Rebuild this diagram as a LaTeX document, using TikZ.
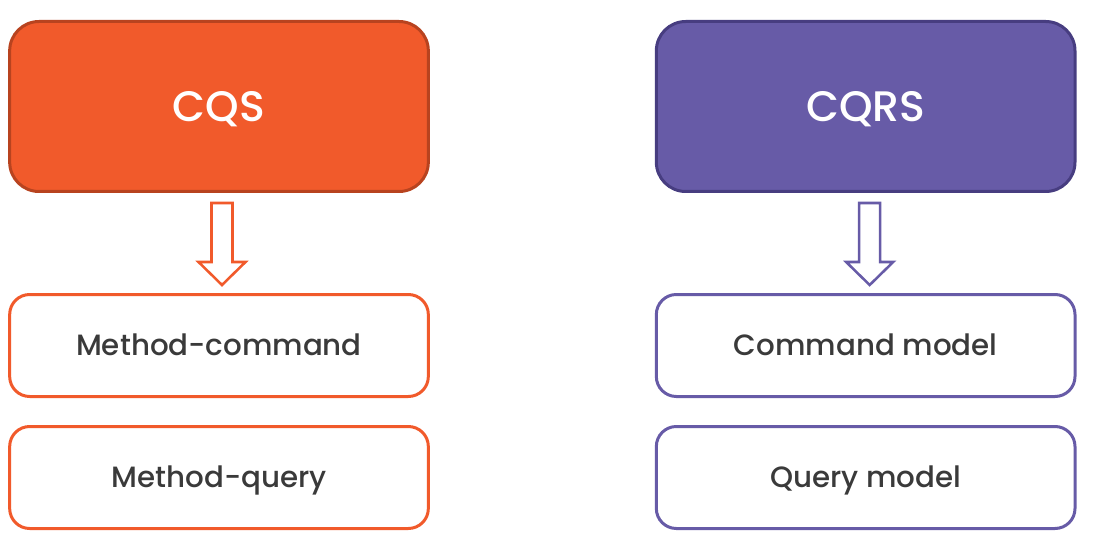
\documentclass[tikz,border=0pt]{standalone}
\usepackage{fontspec}
\setmainfont{Poppins Medium}
\usetikzlibrary{positioning, calc}

\definecolor{cqsfill}{HTML}{F15A2B}
\definecolor{cqsedge}{HTML}{B8431F}
\definecolor{cqrsfill}{HTML}{675BA7}
\definecolor{cqrsedge}{HTML}{473D80}
\definecolor{labeltext}{HTML}{3A3A3A}

\begin{document}
\begin{tikzpicture}[
    x=0.75pt, y=-0.75pt,
    node distance=75pt and 168.75pt,
    title/.style={rectangle, rounded corners=22pt, minimum width=314pt, minimum height=127.5pt, line width=2.25pt, text=white, font=\fontsize{32}{36}\selectfont, text height=22.5pt, text depth=0pt},
    part/.style={rectangle, rounded corners=15pt, minimum width=314pt, minimum height=76.5pt, line width=2.25pt, fill=white, text=labeltext, font=\fontsize{22}{26}\selectfont, text height=15.5pt, text depth=0pt},
    hollow/.style={line width=1.9pt, fill=white, line join=miter}
]
\useasboundingbox (0,0) rectangle (1096,556);

% === HEADERS ===
\node (cqs) [title, draw=cqsedge, fill=cqsfill] at (219,106.5) {CQS};
\node (cqrs) [title, draw=cqrsedge, fill=cqrsfill, right=of cqs] {CQRS};

% === CQS PARTS ===
\node (mcommand) [part, draw=cqsfill, below=of cqs] {Method-command};
\node (mquery) [part, draw=cqsfill, below=20.25pt of mcommand] {Method-query};

% === CQRS PARTS ===
\node (cmodel) [part, draw=cqrsfill, below=of cqrs] {Command model};
\node (qmodel) [part, draw=cqrsfill, below=20.25pt of cmodel] {Query model};

% === HOLLOW ARROWS ===
\draw [hollow, draw=cqsfill] ($(cqs.south)+(3,0)$) ++(-10.5,10) -- ++(0,59) -- ++(-13,0)
    -- ($(mcommand.north)+(3,-8)$) -- ($(cqs.south)+(26.5,69)$) -- ++(-13,0) -- ++(0,-59) -- cycle;
\draw [hollow, draw=cqrsfill] ($(cqrs.south)+(4,0)$) ++(-10.5,10) -- ++(0,59) -- ++(-13,0)
    -- ($(cmodel.north)+(4,-8)$) -- ($(cqrs.south)+(27.5,69)$) -- ++(-13,0) -- ++(0,-59) -- cycle;

\end{tikzpicture}
\end{document}
